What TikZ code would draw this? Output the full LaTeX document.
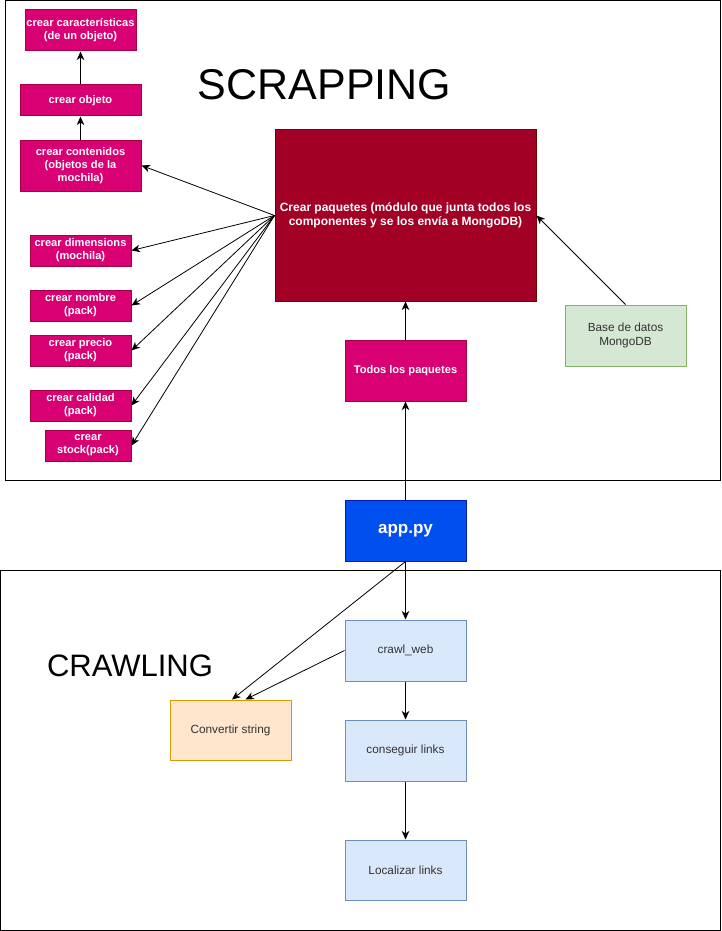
\documentclass[tikz,border=0pt]{standalone}
\usepackage{fontspec}
\setmainfont{Liberation Sans}
\usetikzlibrary{arrows.meta,calc}
\definecolor{pinkf}{HTML}{D80073}
\definecolor{pinks}{HTML}{A50040}
\definecolor{redf}{HTML}{A20025}
\definecolor{reds}{HTML}{6F0000}
\definecolor{bluef}{HTML}{0050EF}
\definecolor{blues}{HTML}{001DBC}
\definecolor{lbluef}{HTML}{DAE8FC}
\definecolor{lblues}{HTML}{6C8EBF}
\definecolor{orf}{HTML}{FFE6CC}
\definecolor{ors}{HTML}{D79B00}
\definecolor{grf}{HTML}{D5E8D4}
\definecolor{grs}{HTML}{82B366}
\definecolor{txt}{HTML}{333333}
\tikzset{
  box/.style={draw, line width=1pt, inner sep=1pt, align=center, minimum width=120pt, minimum height=60pt},
  pinkbox/.style={box, fill=pinkf, draw=pinks, text=white, font=\fontsize{11.1}{13}\selectfont\bfseries},
  redbox/.style={box, fill=redf, draw=reds, text=white, font=\fontsize{12}{14}\selectfont\bfseries},
  appbox/.style={box, fill=bluef, draw=blues, text=white, font=\fontsize{17}{19}\selectfont\bfseries},
  lbbox/.style={box, fill=lbluef, draw=lblues, text=txt, font=\fontsize{11.8}{13.5}\selectfont},
  orbox/.style={box, fill=orf, draw=ors, text=txt, font=\fontsize{11.8}{13.5}\selectfont},
  grbox/.style={box, fill=grf, draw=grs, text=txt, font=\fontsize{11.8}{13.5}\selectfont},
  arr/.style={-{Stealth[length=8.5pt,width=7.5pt,inset=2.5pt]}, line width=1pt, black},
  thin arr/.style={-{Stealth[length=8.5pt,width=7.5pt,inset=2.5pt]}, line width=0.8pt, black},
  frame/.style={draw=black, line width=1pt},
  title/.style={inner sep=0pt, text=black}
}
\begin{document}
\begin{tikzpicture}[x=1pt,y=-1pt]
\useasboundingbox (0,0) rectangle (721,931);
\fill[white] (0,0) rectangle (721,931);
% frames
\draw[frame] (5.5,0.5) rectangle (720.5,480.5);
\draw[frame] (0.5,570.5) rectangle (720.5,930.5);
% titles
\node[title, font=\fontsize{43}{47}\selectfont] (scr) at (324.5,85) {SCRAPPING};
\node[title, font=\fontsize{31}{34}\selectfont] (cra) at (130,665.5) {CRAWLING};
% scrapping nodes
\node[pinkbox, minimum width=111pt, minimum height=41pt] (car) at (80.5,30.5) {crear características\\(de un objeto)};
\node[pinkbox, minimum width=121pt, minimum height=31pt] (obj) at (80.5,100.5) {crear objeto};
\node[pinkbox, minimum width=121pt, minimum height=51pt] (cont) at (80.5,165.5) {crear contenidos\\(objetos de la\\mochila)};
\node[pinkbox, minimum width=101pt, minimum height=31pt] (dim) at (80.5,250.5) {crear dimensions\\(mochila)};
\node[pinkbox, minimum width=101pt, minimum height=31pt] (nom) at (80.5,305.5) {crear nombre\\(pack)};
\node[pinkbox, minimum width=101pt, minimum height=31pt] (pre) at (80.5,350.5) {crear precio\\(pack)};
\node[pinkbox, minimum width=101pt, minimum height=31pt] (cal) at (80.5,405.5) {crear calidad\\(pack)};
\node[pinkbox, minimum width=86pt, minimum height=31pt] (sto) at (88,445.5) {crear\\stock(pack)};
\node[redbox, minimum width=261pt, minimum height=171pt] (paq) at (405.5,215.5) {Crear paquetes (módulo que junta todos los\\componentes y se los envía a MongoDB)};
\node[pinkbox, minimum width=121pt, minimum height=61pt] (todos) at (405.5,370.5) {Todos los paquetes};
\node[grbox, minimum width=121pt, minimum height=61pt] (base) at (625.5,335.5) {Base de datos\\MongoDB};
\node[appbox, minimum width=121pt, minimum height=61pt] (app) at (405.5,530.5) {app.py};
% crawling nodes
\node[lbbox, minimum width=121pt, minimum height=61pt] (crawl) at (405.5,650.5) {crawl\_web};
\node[orbox, minimum width=121pt, minimum height=60pt] (conv) at (230.5,730) {Convertir string};
\node[lbbox, minimum width=121pt, minimum height=61pt] (cons) at (405.5,750.5) {conseguir links};
\node[lbbox, minimum width=121pt, minimum height=60pt] (loc) at (405.5,870) {Localizar links};
% connectors
\draw[arr] (obj) -- (car);
\draw[arr] (cont) -- (obj);
\foreach \t in {cont,dim,nom,pre,cal,sto}{
  \draw[thin arr] (paq.west) -- (\t.east);
}
\draw[arr] (todos) -- (paq);
\draw[arr] (app) -- (todos);
\draw[arr] (base.north) -- (paq.east);
\draw[arr] (app) -- (crawl);
\draw[thin arr] (app.south) -- ($(conv.north)+(1.5,0)$);
\draw[thin arr] (crawl.west) -- ($(conv.north)+(15,0)$);
\draw[arr] (crawl) -- (cons);
\draw[arr] (cons) -- (loc);
\end{tikzpicture}
\end{document}
